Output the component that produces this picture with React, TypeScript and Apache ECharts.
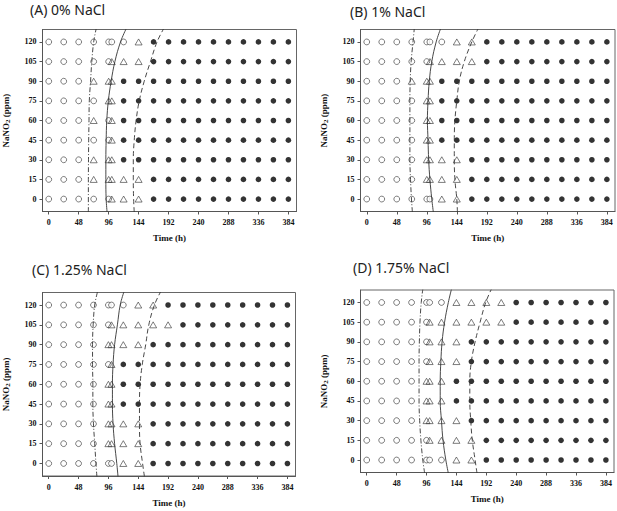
import React, { useEffect, useRef } from "react";
import * as echarts from "echarts";

// Sampling times (h) of the symbol columns; the pair at 96/101 is drawn side by side
const times = [0, 24, 48, 72, 96, 101, 120, 144, 168, 192, 216, 240, 264, 288, 312, 336, 360, 384];
// NaNO2 levels (ppm), rows from bottom to top
const levels = [0, 15, 30, 45, 60, 75, 90, 105, 120];
const xTicks = [0, 48, 96, 144, 192, 240, 288, 336, 384];
const yTicks = [0, 15, 30, 45, 60, 75, 90, 105, 120];
const panelTitles = ["(A) 0% NaCl", "(B) 1% NaCl", "(C) 1.25% NaCl", "(D) 1.75% NaCl"];

// o = open circle, t = open triangle, f = filled circle (one string per level, columns = times)
const statesA = [
  "oooo ot tt ffffffffff",
  "ooot tt tt ffffffffff",
  "ooot tt ff ffffffffff",
  "oooo ot ff ffffffffff",
  "ooot ot ff ffffffffff",
  "oooo tt ff ffffffffff",
  "ooot tt ff ffffffffff",
  "oooo ot tt ffffffffff",
  "oooo oo ot ffffffffff",
];
const statesB = [
  "oooo oo tt ffffffffff",
  "oooo tt tt ffffffffff",
  "oooo tt tt ffffffffff",
  "oooo tt ff ffffffffff",
  "oooo tt ff ffffffffff",
  "oooo tt ff ffffffffff",
  "ooot tt ff ffffffffff",
  "oooo ot tt tfffffffff",
  "oooo oo ot tfffffffff",
];
const statesC = [
  "oooo oo tt ffffffffff",
  "oooo tt tt ffffffffff",
  "oooo tt tt ffffffffff",
  "oooo tt ff ffffffffff",
  "oooo tt ff ffffffffff",
  "oooo ot ff ffffffffff",
  "oooo tt tt ffffffffff",
  "oooo ot tt ttffffffff",
  "oooo oo ot tfffffffff",
];
const statesD = [
  "oooo oo ot tfffffffff",
  "oooo ot tt tfffffffff",
  "oooo tt tt ffffffffff",
  "oooo tt tf ffffffffff",
  "oooo tt tf ffffffffff",
  "oooo ot tt ffffffffff",
  "oooo ot tt ffffffffff",
  "oooo ot tt tttfffffff",
  "oooo oo ot tttfffffff",
];

// Boundary curves [time (h), NaNO2 (ppm)]
const dashDotA = [[63.5, -10], [63.5, 0], [63.5, 15], [63.7, 30], [64, 45], [64.5, 60], [65, 75], [67, 90], [69, 105], [72, 120], [76, 130]];
const solidA = [[93.5, -10], [92, 0], [91.5, 15], [91.5, 30], [92, 45], [93, 60], [95.5, 75], [100, 90], [106, 105], [115, 120], [124, 130]];
const dashedA = [[137, -10], [136, 0], [135.5, 15], [135.5, 30], [137, 45], [140, 60], [145, 75], [153, 90], [163, 105], [173.5, 120], [184, 130]];

const dashDotB = [[73, -10], [71.5, 0], [70, 15], [69, 30], [69, 45], [69, 60], [69, 75], [69.5, 90], [71, 105], [74, 120], [76, 130]];
const solidB = [[106.5, -10], [104, 0], [101, 15], [99, 30], [98, 45], [97, 60], [98, 75], [100, 90], [104, 105], [111, 120], [118, 130]];
const dashedB = [[145, -10], [144, 0], [141, 15], [140, 30], [140, 45], [141, 60], [144, 75], [148, 90], [156, 105], [168, 120], [178, 130]];

const dashDotC = [[77.5, -10], [76, 0], [74, 15], [72, 30], [71, 45], [71, 60], [70.5, 75], [70.5, 90], [71.5, 105], [74, 120], [78.5, 130]];
const solidC = [[111.5, -10], [109.5, 0], [106, 15], [103.5, 30], [102.5, 45], [102.5, 60], [103.5, 75], [106, 90], [110.5, 105], [115, 120], [121, 130]];
const dashedC = [[154, -10], [151, 0], [147, 15], [146, 30], [146, 45], [147, 60], [150.5, 75], [156, 90], [161, 105], [170, 120], [180, 130]];

const dashDotD = [[93, -10], [90, 0], [87, 15], [85, 30], [84, 45], [84, 60], [84, 75], [84.5, 90], [85.5, 105], [87.5, 120], [90, 130]];
const solidD = [[131, -10], [127, 0], [122.5, 15], [120, 30], [118, 45], [118, 60], [119, 75], [121, 90], [125, 105], [131, 120], [136, 130]];
const dashedD = [[177, -10], [174, 0], [169.5, 15], [167, 30], [165.5, 45], [165.5, 60], [168, 75], [174, 90], [182, 105], [191, 120], [200, 130]];

const panelStates = [statesA, statesB, statesC, statesD];
const panelCurves = [
  [dashDotA, solidA, dashedA],
  [dashDotB, solidB, dashedB],
  [dashDotC, solidC, dashedC],
  [dashDotD, solidD, dashedD],
];

const SERIF = "'Liberation Serif', 'Times New Roman', serif";

export default function App() {
  const ref = useRef<HTMLDivElement>(null);

  useEffect(() => {
    document.body.style.margin = "0";
    if (!ref.current) return;
    const chart = echarts.init(ref.current, undefined, { renderer: "svg" });

    const gridBoxes = [
      { left: 41.5, top: 29.5, width: 255, height: 182 },
      { left: 360.5, top: 29.5, width: 254.5, height: 182 },
      { left: 41.5, top: 292.5, width: 254, height: 183.5 },
      { left: 360.5, top: 290, width: 253.5, height: 182.5 },
    ];
    const titlePos = [
      [30, 2],
      [350, 4],
      [32, 262],
      [353, 260],
    ];

    const grid = gridBoxes.map((g) => ({
      ...g,
      show: true,
      borderColor: "#666",
      borderWidth: 1,
      backgroundColor: "transparent",
      containLabel: false,
    }));

    const xAxis = gridBoxes.map((_, i) => ({
      type: "value",
      gridIndex: i,
      min: -10,
      max: 397,
      axisLine: { show: true, onZero: false, lineStyle: { color: "#555", width: 1 } },
      axisTick: { show: true, customValues: xTicks, length: 3, lineStyle: { color: "#555" } },
      axisLabel: {
        customValues: xTicks,
        fontFamily: SERIF,
        fontWeight: "bold",
        fontSize: 8,
        color: "#111",
        margin: 7,
      },
      splitLine: { show: false },
      name: "Time (h)",
      nameLocation: "middle",
      nameGap: 22,
      nameTextStyle: { fontFamily: SERIF, fontWeight: "bold", fontSize: 9, color: "#111" },
    }));

    const yAxis = gridBoxes.map((_, i) => ({
      type: "value",
      gridIndex: i,
      min: -9.5,
      max: 129.5,
      axisLine: { show: true, onZero: false, lineStyle: { color: "#555", width: 1 } },
      axisTick: { show: true, customValues: yTicks, length: 3, lineStyle: { color: "#555" } },
      axisLabel: {
        customValues: yTicks,
        fontFamily: SERIF,
        fontWeight: "bold",
        fontSize: 8,
        color: "#111",
        margin: 6,
      },
      splitLine: { show: false },
      name: "{a|NaNO}{s|2}{a| (ppm)}",
      nameLocation: "middle",
      nameRotate: 90,
      nameGap: 31,
      nameTextStyle: {
        rich: {
          a: { fontFamily: SERIF, fontWeight: "bold", fontSize: 9, color: "#111", lineHeight: 12, verticalAlign: "middle" },
          s: { fontFamily: SERIF, fontWeight: "bold", fontSize: 7, color: "#111", lineHeight: 7, verticalAlign: "bottom" },
        },
      },
    }));

    const series: any[] = [];
    panelStates.forEach((states, p) => {
      const open: number[][] = [];
      const tri: number[][] = [];
      const filled: number[][] = [];
      states.forEach((row, r) => {
        const codes = row.replace(/\s+/g, "").split("");
        codes.forEach((c, k) => {
          const pt = [times[k], levels[r]];
          if (c === "o") open.push(pt);
          else if (c === "t") tri.push(pt);
          else if (c === "f") filled.push(pt);
        });
      });
      const lineTypes: any[] = [[5, 2, 1, 2], "solid", [5, 3]];
      panelCurves[p].forEach((curve, ci) => {
        series.push({
          type: "line",
          xAxisIndex: p,
          yAxisIndex: p,
          data: curve,
          smooth: 0.4,
          showSymbol: false,
          symbol: "none",
          clip: true,
          lineStyle: { color: "#333", width: 0.9, type: lineTypes[ci] },
          z: 3,
          silent: true,
        });
      });
      series.push({
        type: "scatter",
        xAxisIndex: p,
        yAxisIndex: p,
        data: open,
        symbol: "circle",
        symbolSize: 5.8,
        itemStyle: { color: "#fff", borderColor: "#333", borderWidth: 0.8 },
        z: 2,
      });
      series.push({
        type: "scatter",
        xAxisIndex: p,
        yAxisIndex: p,
        data: tri,
        symbol: "triangle",
        symbolSize: [7, 6],
        itemStyle: { color: "rgba(255,255,255,0)", borderColor: "#333", borderWidth: 0.8 },
        z: 2,
      });
      series.push({
        type: "scatter",
        xAxisIndex: p,
        yAxisIndex: p,
        data: filled,
        symbol: "circle",
        symbolSize: 5.6,
        itemStyle: { color: "#000" },
        z: 2,
      });
    });

    const title = panelTitles.map((t, i) => ({
      text: t,
      left: titlePos[i][0],
      top: titlePos[i][1],
      padding: 0,
      textStyle: {
        fontFamily: "'Noto Sans', 'Open Sans', sans-serif",
        fontSize: 14,
        fontWeight: "normal",
        color: "#222",
      },
    }));

    chart.setOption({
      animation: false,
      backgroundColor: "#fff",
      title,
      grid,
      xAxis,
      yAxis,
      series,
    } as any);

    return () => chart.dispose();
  }, []);

  return <div ref={ref} style={{ width: 617, height: 511 }} />;
}
